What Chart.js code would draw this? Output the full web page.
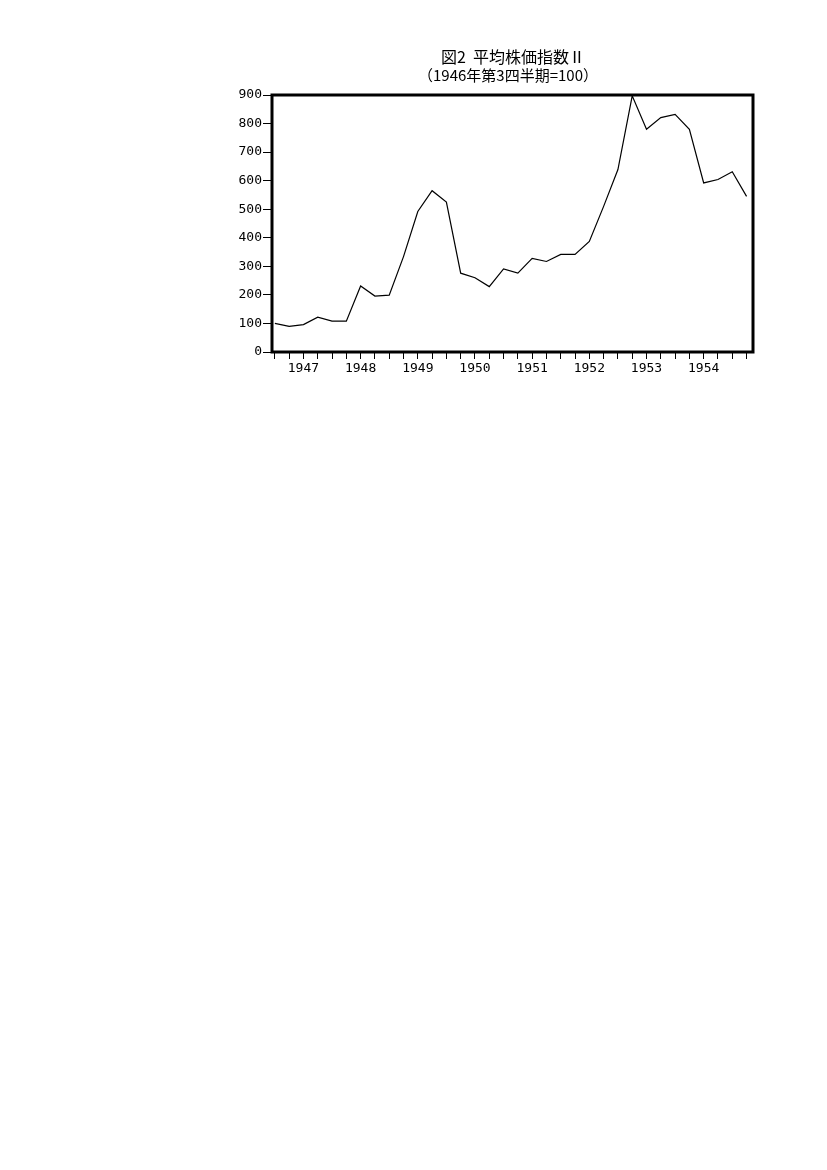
<!DOCTYPE html>
<html>
<head>
<meta charset="utf-8">
<script src="https://cdn.jsdelivr.net/npm/chart.js@4/dist/chart.umd.min.js"></script>
<style>
  html, body { margin: 0; padding: 0; background: #fff; }
  #wrap { position: absolute; left: 0; top: 0; width: 827px; height: 400px; }
</style>
</head>
<body>
<div id="wrap"><canvas id="chart" width="827" height="400"></canvas></div>
<script>
// quarterly index, 1946 Q3 = 100
const quarters = [
  '1946Q3', '1946Q4',
  '1947Q1', '1947Q2', '1947Q3', '1947Q4',
  '1948Q1', '1948Q2', '1948Q3', '1948Q4',
  '1949Q1', '1949Q2', '1949Q3', '1949Q4',
  '1950Q1', '1950Q2', '1950Q3', '1950Q4',
  '1951Q1', '1951Q2', '1951Q3', '1951Q4',
  '1952Q1', '1952Q2', '1952Q3', '1952Q4',
  '1953Q1', '1953Q2', '1953Q3', '1953Q4',
  '1954Q1', '1954Q2', '1954Q3', '1954Q4'
];
const indexValues = [
  100, 90,
  96, 122, 108, 108,
  231, 196, 199, 334,
  492, 565, 525, 276,
  260, 229, 291, 276,
  328, 317, 342, 342,
  387, 510, 639, 897,
  780, 821, 832, 780,
  592, 604, 631, 545
];
const titleLines = ['図2  平均株価指数Ⅱ', '（1946年第3四半期=100）'];

// thick frame round the plot + title text
const framePlugin = {
  id: 'frame',
  afterDraw(chart) {
    const { ctx, chartArea: a } = chart;
    ctx.save();
    ctx.strokeStyle = '#000';
    ctx.lineWidth = 3;
    ctx.strokeRect(a.left, a.top, a.right - a.left, a.bottom - a.top);
    ctx.fillStyle = '#000';
    ctx.textAlign = 'center';
    ctx.textBaseline = 'middle';
    ctx.font = '16px "Noto Sans CJK JP"';
    ctx.fillText(titleLines[0], 513, 57);
    ctx.font = '15px "Noto Sans CJK JP"';
    ctx.fillText(titleLines[1], 508, 75);
    ctx.restore();
  }
};

new Chart(document.getElementById('chart'), {
  type: 'line',
  data: {
    datasets: [{
      data: indexValues.map((v, i) => ({ x: i, y: v })),
      borderColor: '#000',
      borderWidth: 1.2,
      pointRadius: 0,
      tension: 0,
      fill: false
    }]
  },
  options: {
    responsive: false,
    animation: false,
    layout: { padding: { left: 0, right: 74, top: 95, bottom: 0 } },
    plugins: { legend: { display: false }, tooltip: { enabled: false } },
    scales: {
      x: {
        type: 'linear',
        min: -0.2,
        max: 33.45,
        afterBuildTicks: s => { s.ticks = quarters.map((q, i) => ({ value: i })); },
        afterFit: s => { s.height = 48; },
        grid: { display: true, drawOnChartArea: false, color: '#000', tickLength: 7, lineWidth: 1 },
        border: { display: false },
        ticks: {
          autoSkip: false,
          maxRotation: 0,
          padding: 2,
          color: '#000',
          font: { family: 'DejaVu Sans Mono', size: 13 },
          callback: v => {
            const q = quarters[v];
            return q && q.endsWith('Q1') ? q.slice(0, 4) : '';
          }
        }
      },
      y: {
        min: 0,
        max: 900,
        afterFit: s => { s.width = 272; },
        grid: { display: true, drawOnChartArea: false, color: '#000', tickLength: 9, lineWidth: 1 },
        border: { display: false },
        ticks: {
          stepSize: 100,
          padding: 1,
          color: '#000',
          font: { family: 'DejaVu Sans Mono', size: 13 }
        }
      }
    }
  },
  plugins: [framePlugin]
});
</script>
</body>
</html>
